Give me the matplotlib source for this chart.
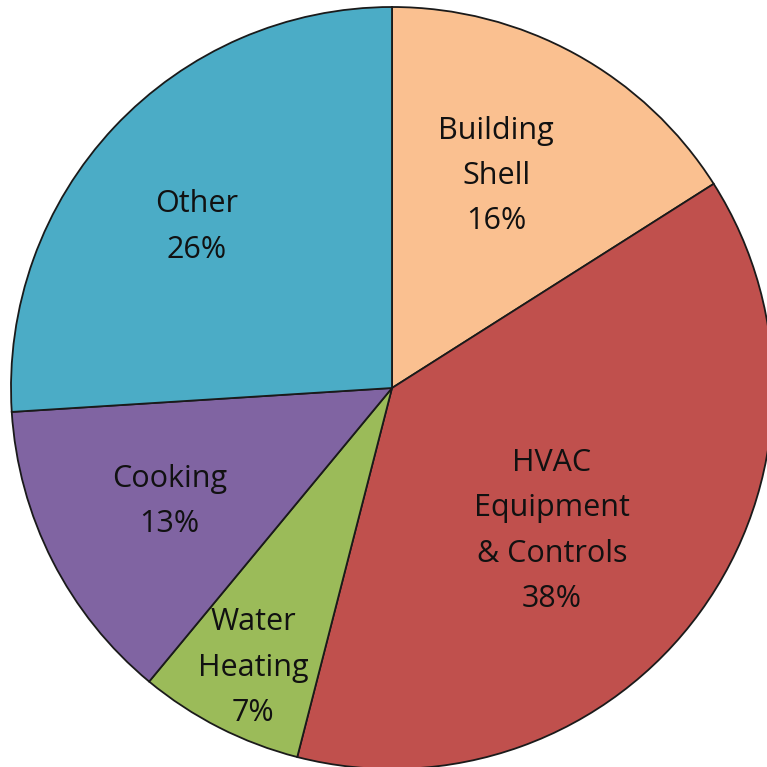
import matplotlib
matplotlib.use('Agg')
import matplotlib.pyplot as plt
import numpy as np

# данни
categories = ['Building\nShell', 'HVAC\nEquipment\n& Controls', 'Water\nHeating', 'Cooking', 'Other']
values = [16, 38, 7, 13, 26]
colors = ['#FAC090', '#C0504D', '#9BBB59', '#8064A2', '#4BACC6']
label_r = [0.62, 0.563, 0.82, 0.655, 0.664]
label_turn = [-2.6, 5.8, -0.6, 0.0, -3.7]   # градуси, по часовника

plt.rcParams['font.family'] = ['Open Sans', 'DejaVu Sans']

fig = plt.figure(figsize=(7.67, 7.67), dpi=100)
ax = fig.add_axes([0, 0, 1, 1])

labels = [c + '\n' + str(v) + '%' for c, v in zip(categories, values)]
wedges, texts = ax.pie(values, labels=labels, colors=colors, startangle=90,
                       counterclock=False, labeldistance=1.0,
                       wedgeprops={'edgecolor': '#1a1a1a', 'linewidth': 1.3},
                       textprops={'fontsize': 22, 'color': '#111111',
                                  'ha': 'center', 'va': 'center',
                                  'linespacing': 1.67})

# позиция на етикетите вътре в секторите
for t, r, d in zip(texts, label_r, label_turn):
    x, y = t.get_position()
    th = np.arctan2(y, x) - np.radians(d)
    t.set_position((r * np.cos(th), r * np.sin(th)))
    t.set_horizontalalignment('center')
    t.set_multialignment('center')

# центърът на кръга е около (392, 388) px, радиус ~381 px
R = 381.0
ax.set_xlim(-392 / R, (767 - 392) / R)
ax.set_ylim(-(767 - 388) / R, 388 / R)
ax.set_aspect('equal')
ax.axis('off')

fig.savefig('out.png', dpi=100)
